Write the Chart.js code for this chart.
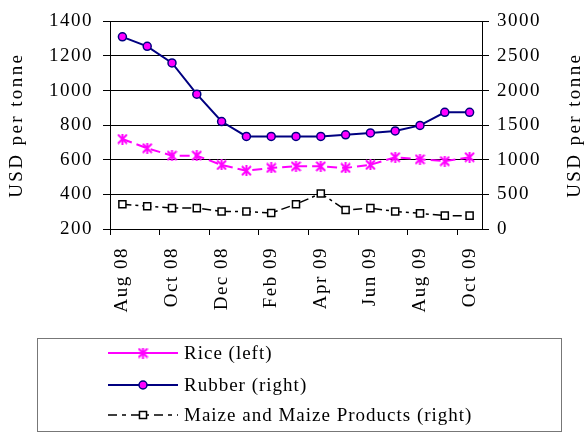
<!DOCTYPE html>
<html>
<head>
<meta charset="utf-8">
<script src="https://cdn.jsdelivr.net/npm/chart.js@4"></script>
<style>
  body { margin: 0; background: #fff; }
  canvas { display: block; }
</style>
</head>
<body>
<canvas id="lineChart" width="584" height="434"></canvas>
<script>
// chart data
const months = ['Aug 08', 'Sep 08', 'Oct 08', 'Nov 08', 'Dec 08', 'Jan 09', 'Feb 09', 'Mar 09',
  'Apr 09', 'May 09', 'Jun 09', 'Jul 09', 'Aug 09', 'Sep 09', 'Oct 09'];
const rice = [720, 667, 624, 624, 570, 537, 553, 562, 562, 553, 571, 615, 603, 592, 615];
const rubber = [2777, 2640, 2400, 1948, 1553, 1337, 1337, 1337, 1337, 1361, 1389, 1417, 1497, 1686, 1686];
const maize = [358, 330, 302, 302, 254, 254, 232, 358, 514, 274, 302, 254, 226, 193, 193];
const leftTicks = [200, 400, 600, 800, 1000, 1200, 1400];
const rightTicks = [0, 500, 1000, 1500, 2000, 2500, 3000];
const axisTitle = 'USD per tonne';

const FONT = { family: "'Liberation Serif', 'Times New Roman', serif", size: 19 };
const fontStr = "19px 'Liberation Serif', 'Times New Roman', serif";

// excel-like star marker (X with a vertical bar)
const starMark = document.createElement('canvas');
starMark.width = 11;
starMark.height = 11;
(() => {
  const c = starMark.getContext('2d');
  c.strokeStyle = '#FF00FF';
  c.lineWidth = 2;
  c.beginPath();
  c.moveTo(1, 1); c.lineTo(10, 10);
  c.moveTo(10, 1); c.lineTo(1, 10);
  c.moveTo(5.5, 0); c.lineTo(5.5, 11);
  c.stroke();
})();

const titlesAndLegend = {
  id: 'titlesAndLegend',
  beforeDraw(chart) {
    // the reference text is a bit loosely spaced
    chart.ctx.letterSpacing = '1.5px';
  },
  afterDraw(chart) {
    const ctx = chart.ctx;
    const area = chart.chartArea;
    const midY = (area.top + area.bottom) / 2;
    ctx.save();
    ctx.fillStyle = '#000';
    ctx.font = fontStr;
    ctx.letterSpacing = '2.4px';
    ctx.textAlign = 'center';
    ctx.textBaseline = 'middle';
    [17, 575].forEach(x => {
      ctx.save();
      ctx.translate(x, midY);
      ctx.rotate(-Math.PI / 2);
      ctx.fillText(axisTitle, 0, 0);
      ctx.restore();
    });

    // legend box
    ctx.letterSpacing = '1px';
    ctx.strokeStyle = '#777';
    ctx.lineWidth = 1;
    ctx.strokeRect(37.5, 338.5, 524, 93);

    const rows = [353, 385, 415];
    chart.data.datasets.forEach((ds, i) => {
      const y = rows[i];
      ctx.save();
      ctx.strokeStyle = ds.borderColor;
      ctx.lineWidth = ds.borderWidth;
      ctx.setLineDash(ds.legendDash || []);
      ctx.beginPath();
      ctx.moveTo(108, y);
      ctx.lineTo(178, y);
      ctx.stroke();
      ctx.setLineDash([]);
      ctx.fillStyle = ds.pointBackgroundColor;
      ctx.strokeStyle = ds.pointBorderColor;
      ctx.lineWidth = ds.pointBorderWidth;
      Chart.helpers.drawPoint(ctx, {
        pointStyle: ds.pointStyle,
        radius: ds.pointRadius,
        borderWidth: ds.pointBorderWidth,
        rotation: 0
      }, 143, y);
      ctx.restore();
      ctx.fillStyle = '#000';
      ctx.textAlign = 'left';
      ctx.fillText(ds.label, 184, y + 1);
    });
    ctx.restore();
  }
};

new Chart(document.getElementById('lineChart').getContext('2d'), {
  type: 'line',
  data: {
    labels: months,
    datasets: [
      {
        label: 'Rice (left)',
        data: rice,
        yAxisID: 'y',
        borderColor: '#FF00FF',
        borderWidth: 2,
        borderDash: [10, 5],
        legendDash: [],
        pointStyle: starMark,
        pointRadius: 5,
        pointBackgroundColor: '#FF00FF',
        pointBorderColor: '#FF00FF',
        pointBorderWidth: 2,
        tension: 0
      },
      {
        label: 'Rubber (right)',
        data: rubber,
        yAxisID: 'y1',
        borderColor: '#000080',
        borderWidth: 2,
        legendDash: [],
        pointStyle: 'circle',
        pointRadius: 4,
        pointBackgroundColor: '#FF00FF',
        pointBorderColor: '#000080',
        pointBorderWidth: 1.5,
        tension: 0
      },
      {
        label: 'Maize and Maize Products (right)',
        data: maize,
        yAxisID: 'y1',
        borderColor: '#000',
        borderWidth: 1.5,
        borderDash: [9, 4, 3, 4],
        legendDash: [9, 5, 4, 5],
        pointStyle: 'rect',
        pointRadius: 5,
        pointBackgroundColor: '#fff',
        pointBorderColor: '#000',
        pointBorderWidth: 1.5,
        tension: 0
      }
    ]
  },
  options: {
    responsive: false,
    animation: false,
    layout: { padding: { top: 16, left: 0, right: 0, bottom: 0 } },
    plugins: {
      legend: { display: false },
      tooltip: { enabled: false }
    },
    scales: {
      x: {
        offset: true,
        afterFit: s => { s.height = 205; },
        grid: {
          offset: true,
          drawOnChartArea: false,
          tickLength: 6,
          tickWidth: 1,
          tickColor: ctx => (ctx.index % 2 === 0 ? '#000' : 'rgba(0,0,0,0)')
        },
        border: { color: '#000', width: 1 },
        ticks: {
          autoSkip: false,
          maxRotation: 90,
          minRotation: 90,
          padding: 12,
          color: '#000',
          font: FONT,
          callback: (v, i) => (i % 2 === 0 ? months[i] : '')
        }
      },
      y: {
        position: 'left',
        min: leftTicks[0],
        max: leftTicks[leftTicks.length - 1],
        afterFit: s => { s.width = 110; },
        afterBuildTicks: s => { s.ticks = leftTicks.map(v => ({ value: v })); },
        grid: { color: '#000', lineWidth: 1, tickLength: 7 },
        border: { color: '#000', width: 1 },
        ticks: { padding: 10, color: '#000', font: FONT, callback: v => String(v) }
      },
      y1: {
        position: 'right',
        min: rightTicks[0],
        max: rightTicks[rightTicks.length - 1],
        afterFit: s => { s.width = 102; },
        afterBuildTicks: s => { s.ticks = rightTicks.map(v => ({ value: v })); },
        grid: { drawOnChartArea: false, color: '#000', tickLength: 7 },
        border: { color: '#000', width: 1 },
        ticks: { padding: 8, color: '#000', font: FONT, callback: v => String(v) }
      }
    }
  },
  plugins: [titlesAndLegend]
});
</script>
</body>
</html>
